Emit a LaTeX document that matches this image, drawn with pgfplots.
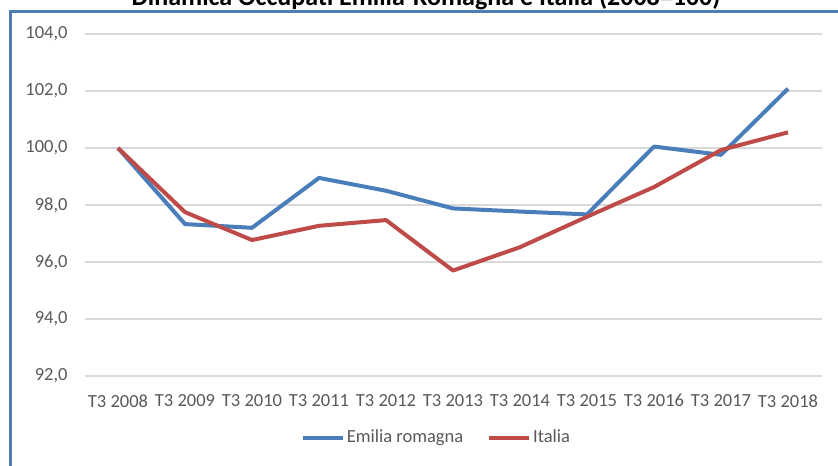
\documentclass[border=0pt]{standalone}
\usepackage{pgfplots}
\pgfplotsset{compat=1.18}
\usepackage{fontspec}
\setmainfont{Carlito}
\definecolor{erblue}{HTML}{4A7EBB}
\definecolor{itred}{HTML}{BE4B48}
\definecolor{lab}{HTML}{595959}
\definecolor{gridc}{HTML}{D9D9D9}
\definecolor{framec}{HTML}{4F7CB4}
\begin{document}
\begin{tikzpicture}[x=1pt,y=1pt]
\path[use as bounding box, clip] (0,0) rectangle (419,232.5);
\draw[framec, line width=1.5pt] (5,-10) -- (5,226.5) -- (430,226.5);
\node[font=\bfseries\fontsize{13}{15}\selectfont, anchor=base, inner sep=0pt] at (213,229.6) {Dinamica Occupati Emilia-Romagna e Italia (2008=100)};
\begin{axis}[
  at={(42.25pt,44.5pt)}, anchor=south west,
  scale only axis, width=368.5pt, height=171pt,
  xmin=-0.5, xmax=10.5, ymin=92, ymax=104,
  xtick={0,...,10},
  xticklabels={T3 2008,T3 2009,T3 2010,T3 2011,T3 2012,T3 2013,T3 2014,T3 2015,T3 2016,T3 2017,T3 2018},
  ytick={92,94,...,104},
  yticklabel style={/pgf/number format/fixed, /pgf/number format/fixed zerofill, /pgf/number format/precision=1, /pgf/number format/use comma, /pgf/number format/assume math mode=true, inner sep=0pt, xshift=-8.25pt},
  axis line style={draw=none},
  major tick length=0pt,
  ymajorgrids,
  grid style={gridc, line width=0.75pt},
  tick label style={font=\fontsize{9.25}{11}\selectfont, text=lab},
  xticklabel style={inner sep=0pt, anchor=north, yshift=-9pt},
  legend style={draw=none, fill=none, legend columns=2, at={(0.4775,-0.1813)}, anchor=center,
    font=\fontsize{9.25}{11}\selectfont, text=lab, inner sep=0pt,
    nodes={inner sep=1pt},
    /tikz/every even column/.append style={column sep=11pt}},
  legend image code/.code={\draw[#1, line width=2pt] (0pt,0pt) -- (20pt,0pt);},
]
\addplot[erblue, line width=2pt, line join=round] coordinates {
 (0,100.0) (1,97.33) (2,97.2) (3,98.95) (4,98.5) (5,97.88) (6,97.77) (7,97.67) (8,100.05) (9,99.76) (10,102.08)};
\addlegendentry{Emilia romagna}
\addplot[itred, line width=2pt, line join=round] coordinates {
 (0,100.0) (1,97.75) (2,96.77) (3,97.27) (4,97.47) (5,95.7) (6,96.52) (7,97.59) (8,98.63) (9,99.93) (10,100.55)};
\addlegendentry{Italia}
\end{axis}
\end{tikzpicture}
\end{document}
